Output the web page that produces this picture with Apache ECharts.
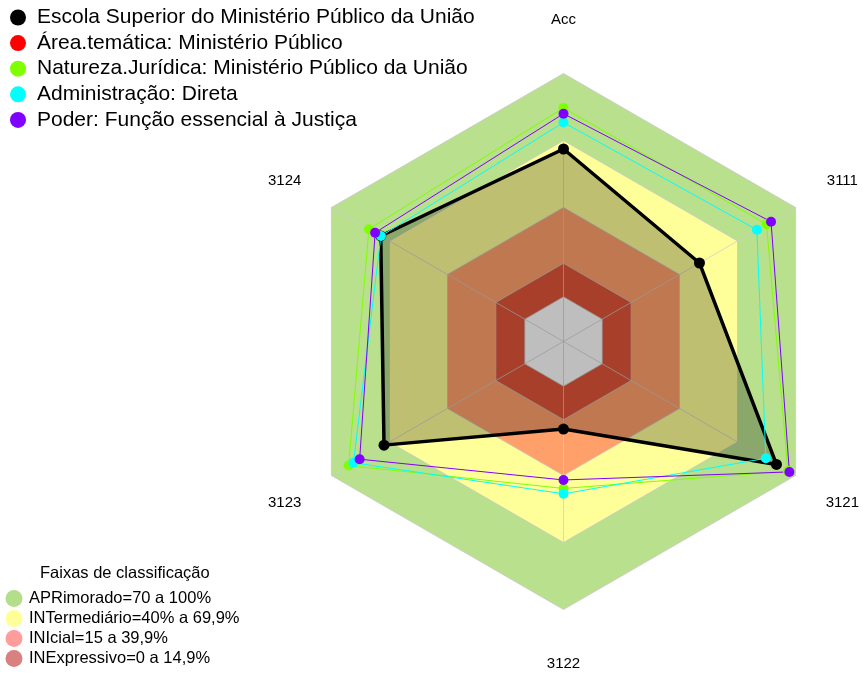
<!DOCTYPE html>
<html>
<head>
<meta charset="utf-8">
<script src="https://cdn.jsdelivr.net/npm/echarts@6/dist/echarts.min.js"></script>
<style>
html, body { margin: 0; padding: 0; background: #fff; }
#chart { width: 863px; height: 673px; }
</style>
</head>
<body>
<div id="chart"></div>
<script>
// eixos na ordem horaria, a partir do topo
var axisNames = ['Acc', '3111', '3121', '3122', '3123', '3124'];

var serieNames = [
    'Escola Superior do Ministério Público da União',
    'Área.temática: Ministério Público',
    'Natureza.Jurídica: Ministério Público da União',
    'Administração: Direta',
    'Poder: Função essencial à Justiça'
];
var serieColors = ['#000000', '#ff0000', '#7fff00', '#00ffff', '#8000ff'];

var escola = [66.2, 50.3, 90.1, 19.2, 72.8, 74.5];
var areaTematica = []; // nao aparece no grafico
var natureza = [84.6, 85.0, 96.0, 45.8, 91.1, 80.6];
var administracao = [78.1, 80.0, 84.6, 48.2, 88.6, 74.4];
var poder = [82.0, 87.3, 96.8, 42.0, 85.4, 77.4];

var bandNames = ['APRimorado=70 a 100%', 'INTermediário=40% a 69,9%', 'INIcial=15 a 39,9%', 'INExpressivo=0 a 14,9%'];
var bandLegendColors = ['#b3de8a', '#ffff99', '#ff9d9d', '#d98080'];
var bandLimits = [-20, 0, 15, 40, 70, 100];
var bandFills = ['#fefefe', '#e05438', '#ffa06a', '#ffff99', '#b9e08c'];

var font = 'Arial, "Liberation Sans", sans-serif';
var center = [563.5, 341.5];
var R = 268;

// echarts desenha os eixos no sentido anti-horario
var order = [0, 5, 4, 3, 2, 1];
function reorder(arr) {
    return order.map(function(i) { return arr[i]; });
}

var vmin = bandLimits[0], vmax = bandLimits[bandLimits.length - 1];

function indicators() {
    return reorder(axisNames).map(function(n) {
        return { name: n, min: vmin, max: vmax };
    });
}

// uma grade radar por faixa, da maior para a menor
var radars = [];
for (var b = bandFills.length - 1; b >= 0; b--) {
    radars.push({
        center: center,
        radius: R * (bandLimits[b + 1] - vmin) / (vmax - vmin),
        startAngle: 90,
        splitNumber: 1,
        shape: 'polygon',
        indicator: indicators(),
        axisName: { show: false },
        axisLine: { show: false },
        axisTick: { show: false },
        axisLabel: { show: false },
        splitLine: { show: true, lineStyle: { color: 'rgba(200,200,200,0.8)', width: 1 } },
        splitArea: { show: true, areaStyle: { color: [bandFills[b]], opacity: 1 } }
    });
}
// grade de cima: eixos e nomes
radars.push({
    z: 1,
    center: center,
    radius: R,
    startAngle: 90,
    splitNumber: 1,
    shape: 'polygon',
    nameGap: 54,
    indicator: indicators(),
    axisName: { color: '#000', fontSize: 15, fontFamily: font, align: 'center', verticalAlign: 'middle' },
    axisLine: { lineStyle: { color: 'rgba(205,205,205,0.75)', width: 1 } },
    axisTick: { show: false },
    axisLabel: { show: false },
    splitLine: { show: false },
    splitArea: { show: false }
});

var series_data = [escola, areaTematica, natureza, administracao, poder].map(function(vals, k) {
    var item = {
        name: serieNames[k],
        value: reorder(vals),
        symbol: 'circle',
        symbolSize: k == 0 ? 11 : 10,
        itemStyle: { color: serieColors[k] },
        lineStyle: { color: serieColors[k], width: k == 0 ? 3.5 : 1 }
    };
    if (vals.length == 0) {
        // serie sem valores: so aparece na legenda
        item.value = [];
        item.symbol = 'none';
        item.lineStyle.width = 0;
    }
    if (k == 0) item.areaStyle = { color: '#000000', opacity: 0.25 };
    return item;
});

var graphics = [{
    type: 'text',
    left: 40, top: 565,
    style: { text: 'Faixas de classificação', fontSize: 16.5, fontFamily: font, fill: '#000' }
}];
for (var j = 0; j < bandNames.length; j++) {
    graphics.push({
        type: 'circle',
        shape: { cx: 14, cy: 598.5 + 20 * j, r: 8.5 },
        style: { fill: bandLegendColors[j] }
    });
    graphics.push({
        type: 'text',
        x: 29, y: 598.5 + 20 * j,
        style: { text: bandNames[j], fontSize: 16.5, fontFamily: font, fill: '#000', verticalAlign: 'middle' }
    });
}

var chart = echarts.init(document.getElementById('chart'));
chart.setOption({
    animation: false,
    legend: {
        orient: 'vertical',
        left: 10,
        top: 7,
        padding: 0,
        icon: 'circle',
        itemWidth: 28,
        itemHeight: 16,
        itemGap: 4.6,
        selectedMode: false,
        textStyle: { fontSize: 21, fontFamily: font, color: '#000' },
        data: serieNames
    },
    radar: radars,
    graphic: graphics,
    series: [{
        type: 'radar',
        radarIndex: radars.length - 1,
        data: series_data
    }]
});
</script>
</body>
</html>
